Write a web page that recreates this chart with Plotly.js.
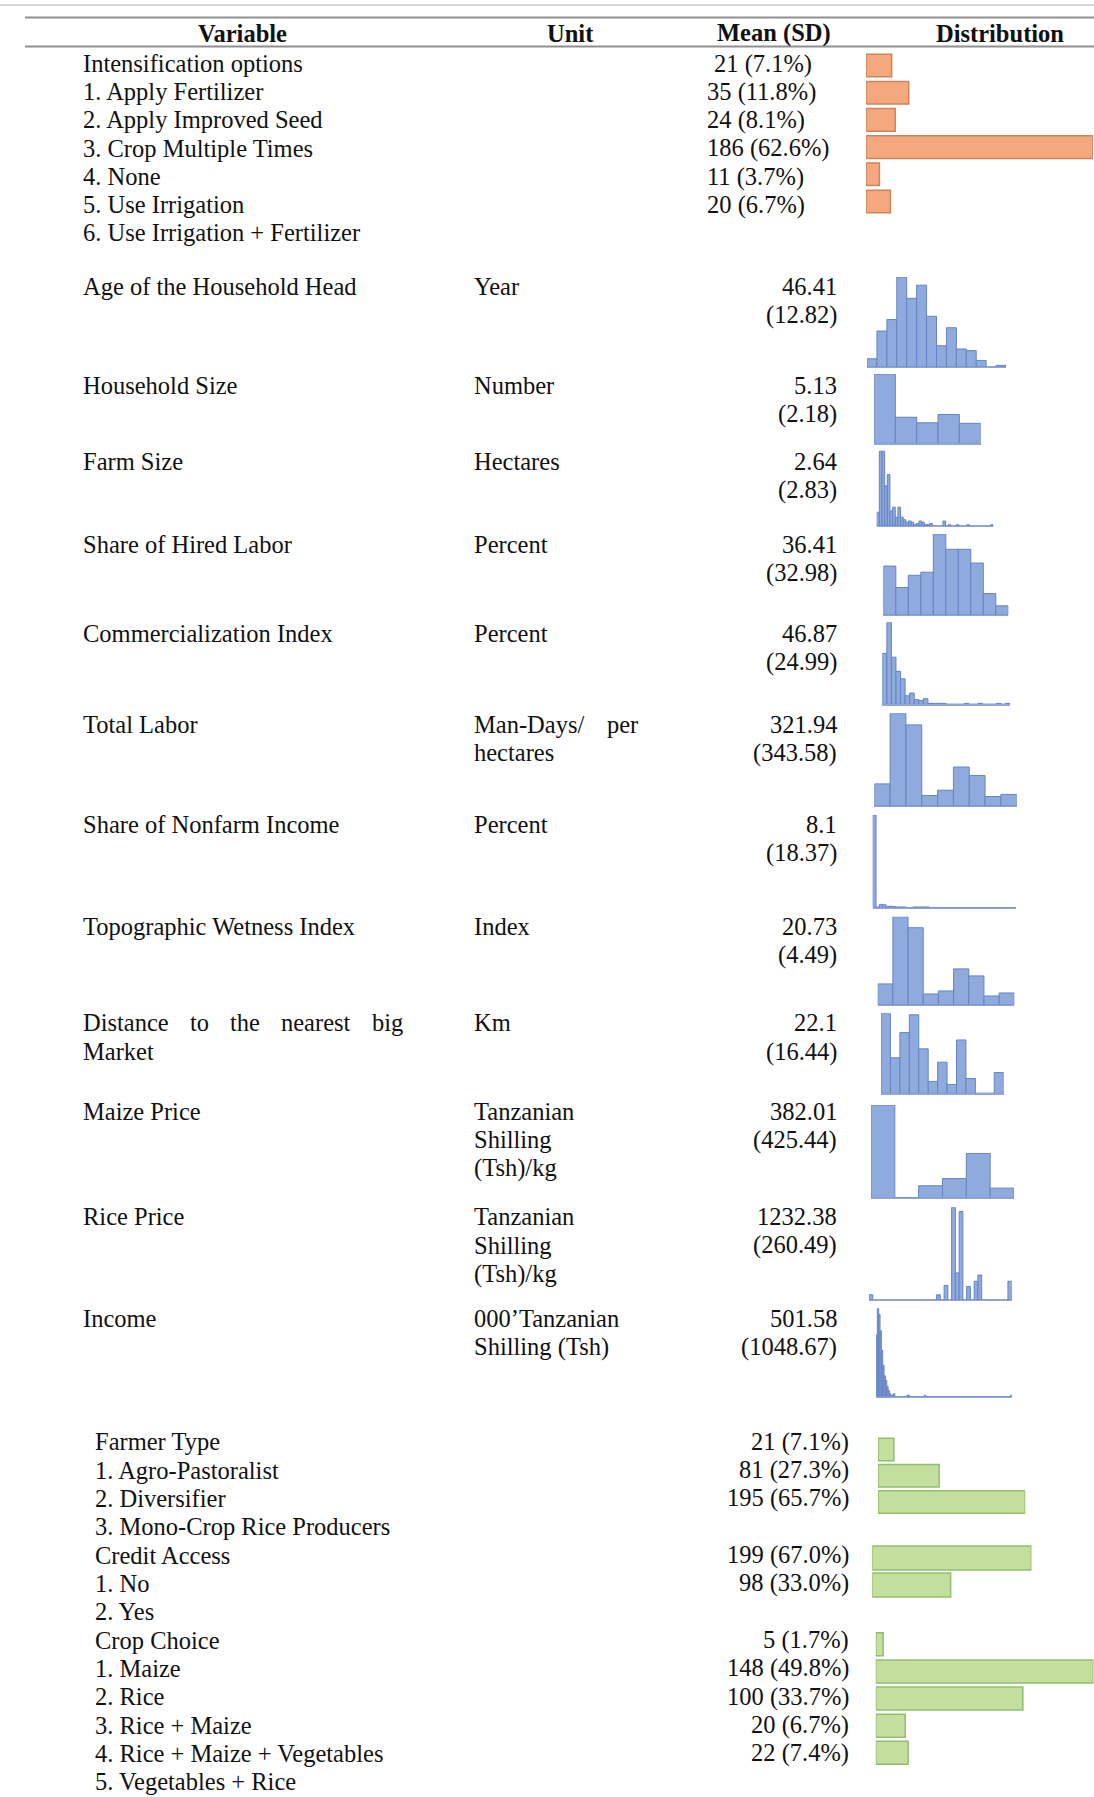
<!DOCTYPE html>
<html><head><meta charset="utf-8">
<script src="https://cdn.plot.ly/plotly-3.0.1.min.js"></script>
<style>html,body{margin:0;padding:0;background:#fff}#chart{width:1094px;height:1797px}</style>
</head><body><div id="chart"></div>
<script>
// ---------------- DATA ----------------
const headers = ["Variable", "Unit", "Mean (SD)", "Distribution"];

const intensLabels = ["Intensification options", "1. Apply Fertilizer", "2. Apply Improved Seed", "3. Crop Multiple Times", "4. None", "5. Use Irrigation", "6. Use Irrigation + Fertilizer"];
const intensCounts = [21, 35, 24, 186, 11, 20];
const intensPct = ["7.1%", "11.8%", "8.1%", "62.6%", "3.7%", "6.7%"];

const varLabelLines = [
  ["Age of the Household Head"], ["Household Size"], ["Farm Size"], ["Share of Hired Labor"],
  ["Commercialization Index"], ["Total Labor"], ["Share of Nonfarm Income"], ["Topographic Wetness Index"],
  ["Distance to the nearest big", "Market"], ["Maize Price"], ["Rice Price"], ["Income"]
];
const unitLines = [
  ["Year"], ["Number"], ["Hectares"], ["Percent"], ["Percent"], ["Man-Days/ per", "hectares"],
  ["Percent"], ["Index"], ["Km"], ["Tanzanian", "Shilling", "(Tsh)/kg"], ["Tanzanian", "Shilling", "(Tsh)/kg"],
  ["000\u2019Tanzanian", "Shilling (Tsh)"]
];
const meanTxt = ["46.41", "5.13", "2.64", "36.41", "46.87", "321.94", "8.1", "20.73", "22.1", "382.01", "1232.38", "501.58"];
const sdTxt = ["12.82", "2.18", "2.83", "32.98", "24.99", "343.58", "18.37", "4.49", "16.44", "425.44", "260.49", "1048.67"];

// histogram bins (start, width, counts)
const histStart = [20, 1, 0, 0, 0, 0, 0, 10, 0, 0, 0, 0];
const histWidth = [5, 3, 0.5, 10, 3.5, 250, 2, 3, 6, 200, 50, 150];
const hAge = [5, 22, 29, 55, 42, 50, 31, 13, 24, 11, 10, 4, 0, 1];
const hHousehold = [125, 47, 37, 52, 36];
const hFarm = [11, 60, 60, 32, 41, 12, 15, 7, 15, 7, 5, 3, 4, 3, 1, 2, 4, 3, 1, 1, 2, 0, 0, 0, 0, 4, 0, 1, 0, 0, 1, 0, 0, 0, 1, 0, 0, 0, 0, 0, 0, 0, 0, 1];
const hHired = [32, 18, 26, 28, 53, 43, 43, 34, 14, 6];
const hComm = [54, 87, 50, 35, 27, 9, 12, 5, 4, 6, 1, 1, 1, 1, 0, 0, 0, 0, 1, 0, 0, 1, 0, 0, 0, 1, 0, 1];
const hLabor = [21, 88, 77, 10, 15, 37, 29, 9, 11];
const hNonfarm = [252, 2, 9, 8, 3, 4, 3, 2, 2, 2, 0, 0, 2, 2, 2, 2, 2, 0, 0, 0, 0, 0, 0, 0, 0, 0, 0, 0, 0, 0, 0, 0, 0, 0, 0, 0, 0, 0, 0, 0, 0, 0, 0];
const hTwi = [21, 88, 77, 11, 14, 36, 29, 9, 12];
const hDistance = [54, 24, 41, 53, 30, 8, 21, 6, 36, 10, 0, 0, 14];
const hMaize = [155, 0, 20, 32, 74, 16];
const hRice = [5, 0, 0, 0, 0, 0, 0, 0, 0, 0, 0, 0, 0, 0, 0, 0, 0, 0, 5, 0, 14, 0, 89, 26, 85, 0, 13, 0, 18, 24, 0, 0, 0, 0, 0, 0, 0, 18];
const hIncome = [41, 59, 55, 44, 31, 21, 14, 11, 7, 4, 2, 1, 1, 2, 0, 0, 0, 0, 0, 0, 0, 0, 0, 1, 1, 0, 0, 0, 0, 0, 0, 0, 0, 0, 0, 0, 1,
  0, 0, 0, 0, 0, 0, 0, 0, 0, 0, 0, 0, 0, 0, 0, 0, 0, 0, 0, 0, 0, 0, 0, 0, 0, 0, 0, 0, 0, 0, 0, 0, 0, 0, 0, 0, 0, 0, 0, 0, 0, 0, 0, 0, 0, 0, 0, 0, 0, 0, 0, 0, 0, 0, 0, 0, 0, 0, 0, 0, 0, 0, 0, 1];
const histCounts = [hAge, hHousehold, hFarm, hHired, hComm, hLabor, hNonfarm, hTwi, hDistance, hMaize, hRice, hIncome];

const farmerLabels = ["Farmer Type", "1. Agro-Pastoralist", "2. Diversifier", "3. Mono-Crop Rice Producers"];
const farmerCounts = [21, 81, 195];
const farmerPct = ["7.1%", "27.3%", "65.7%"];
const creditLabels = ["Credit Access", "1. No", "2. Yes"];
const creditCounts = [199, 98];
const creditPct = ["67.0%", "33.0%"];
const cropLabels = ["Crop Choice", "1. Maize", "2. Rice", "3. Rice + Maize", "4. Rice + Maize + Vegetables", "5. Vegetables + Rice"];
const cropCounts = [5, 148, 100, 20, 22];
const cropPct = ["1.7%", "49.8%", "33.7%", "6.7%", "7.4%"];

// ---------------- LAYOUT ----------------
const W = 1094, H = 1797;
const px = x => x / W, py = y => 1 - y / H;
const FONT = "Liberation Serif, 'Times New Roman', serif";
const FS = 24.5;
const annotations = [], shapes = [], traces = [];
const layout = {
  width: W, height: H, margin: {l: 0, r: 0, t: 0, b: 0},
  paper_bgcolor: '#fff', plot_bgcolor: 'rgba(0,0,0,0)', showlegend: false,
  annotations, shapes
};

const cv = document.createElement('canvas').getContext('2d');
cv.font = FS + "px 'Liberation Serif'";

function txt(s, x, y, anchor, bold) {
  annotations.push({
    text: bold ? '<b>' + s + '</b>' : s, x: px(x), y: py(y), xref: 'paper', yref: 'paper',
    xanchor: anchor, yanchor: 'middle', showarrow: false, borderpad: 0,
    font: {family: FONT, size: FS, color: '#111'}
  });
}
function justified(line, x0, x1, y) {
  const words = line.split(/\s+/);
  const widths = words.map(w => cv.measureText(w).width);
  const total = widths.reduce((a, b) => a + b, 0);
  const gap = (x1 - x0 - total) / (words.length - 1);
  let x = x0;
  words.forEach((w, i) => { txt(w, x, y, 'left'); x += widths[i] + gap; });
}
function hline(y, x0, x1, color, w) {
  shapes.push({type: 'line', xref: 'paper', yref: 'paper', x0: px(x0), x1: px(x1), y0: py(y), y1: py(y), line: {color, width: w}});
}

let axN = 0;
function addAxes(x0, x1, yTop, yBot, xr, yr, xline) {
  axN++;
  const s = axN === 1 ? '' : String(axN);
  layout['xaxis' + s] = {
    domain: [px(x0), px(x1)], range: xr, anchor: 'y' + s, fixedrange: true,
    showgrid: false, zeroline: false, showticklabels: false, ticks: '',
    showline: !!xline, linecolor: '#8EA6D8', linewidth: 1.3
  };
  layout['yaxis' + s] = {
    domain: [py(yBot), py(yTop)], range: yr, anchor: 'x' + s, fixedrange: true, visible: false
  };
  return ['x' + s, 'y' + s];
}

// Header lines & header text
hline(5, 0, 1094, '#d6d6d6', 2);
hline(17.5, 25, 1094, '#8f8f8f', 2);
hline(46.5, 25, 1094, '#8f8f8f', 2);
const headerX = [242, 570, 774, 1000];
headers.forEach((h, i) => txt(h, headerX[i], 33.5, 'center', true));

// Intensification block
const intensRow0 = 63.5, rowStep = 28.25;
intensLabels.forEach((l, i) => txt(l, 82, intensRow0 + i * rowStep, 'left'));
intensCounts.forEach((c, i) => txt(c + ' (' + intensPct[i] + ')', i === 0 ? 713 : 706, intensRow0 + i * rowStep, 'left'));
{
  const [xa, ya] = addAxes(866, 1093, 51.9, 215.1, [0, Math.max(...intensCounts)], [intensCounts.length - 0.5, -0.5]);
  traces.push({
    type: 'bar', orientation: 'h', x: intensCounts, y: intensCounts.map((_, i) => i), width: 0.83,
    xaxis: xa, yaxis: ya, hoverinfo: 'skip',
    marker: {color: '#F5A87D', line: {color: '#CC845A', width: 1.5}}
  });
}

// Continuous variables
const rowY = [286.4, 385, 461.6, 544, 633.5, 724, 824.8, 926.7, 1023, 1111, 1216.5, 1318.5];
const lineStep = 28.6;
varLabelLines.forEach((lines, i) => lines.forEach((l, j) => {
  const y = rowY[i] + j * lineStep;
  if (i === 8 && j === 0) justified(l, 82, 402, y); else txt(l, 82, y, 'left');
}));
unitLines.forEach((lines, i) => lines.forEach((l, j) => {
  const y = rowY[i] + j * lineStep;
  if (i === 5 && j === 0) justified(l, 472.5, 637, y); else txt(l, 472.5, y, 'left');
}));
meanTxt.forEach((m, i) => { txt(m, 838, rowY[i], 'right'); txt('(' + sdTxt[i] + ')', 838, rowY[i] + lineStep, 'right'); });

const histBox = [
  [867, 1006, 277, 367], [874, 980.7, 374, 443.3], [876.7, 993.3, 450.7, 526], [883.3, 1008.3, 534, 615],
  [882.3, 1010, 622.3, 704.3], [874.3, 1016.7, 713.3, 806], [872.7, 1016, 815, 907.7], [877.7, 1014.3, 916.7, 1005],
  [881, 1003.7, 1013.3, 1093.3], [871, 1014, 1105, 1197.7], [869, 1011.7, 1207.3, 1300], [876, 1011.7, 1308.3, 1396.7]
];
histCounts.forEach((counts, i) => {
  const b = histBox[i], s0 = histStart[i], w = histWidth[i];
  const [xa, ya] = addAxes(b[0], b[1], b[2], b[3], [s0, s0 + counts.length * w], [0, Math.max(...counts)], true);
  traces.push({
    type: 'bar', x: counts.map((_, k) => s0 + (k + 0.5) * w), y: counts, width: w,
    xaxis: xa, yaxis: ya, hoverinfo: 'skip',
    marker: {color: '#8FAADC', line: {color: '#6684C4', width: 1}}
  });
});

// Categorical (green) block
const gRow0 = 1441.7, gStep = 28.33;
const allG = farmerLabels.concat(creditLabels, cropLabels);
allG.forEach((l, i) => txt(l, 93.5, gRow0 + i * gStep, 'left'));
const groups = [
  {counts: farmerCounts, pct: farmerPct, row: 0, box: [878, 1025.2, 1436.4, 1515.1], w: 0.86},
  {counts: creditCounts, pct: creditPct, row: farmerLabels.length, box: [872.3, 1031.4, 1544.5, 1598.5], w: 0.89},
  {counts: cropCounts, pct: cropPct, row: farmerLabels.length + creditLabels.length, box: [875.8, 1093.4, 1630.75, 1766.35], w: 0.85}
];
groups.forEach(g => {
  g.counts.forEach((c, k) => txt(c + ' (' + g.pct[k] + ')', 850, gRow0 + (g.row + k) * gStep, 'right'));
  const [xa, ya] = addAxes(g.box[0], g.box[1], g.box[2], g.box[3], [0, Math.max(...g.counts)], [g.counts.length - 0.5, -0.5]);
  traces.push({
    type: 'bar', orientation: 'h', x: g.counts, y: g.counts.map((_, k) => k), width: g.w,
    xaxis: xa, yaxis: ya, hoverinfo: 'skip',
    marker: {color: '#C4DE9E', line: {color: '#90BE6D', width: 1.5}}
  });
});

Plotly.newPlot('chart', traces, layout, {displayModeBar: false, staticPlot: true});
</script>
</body></html>
